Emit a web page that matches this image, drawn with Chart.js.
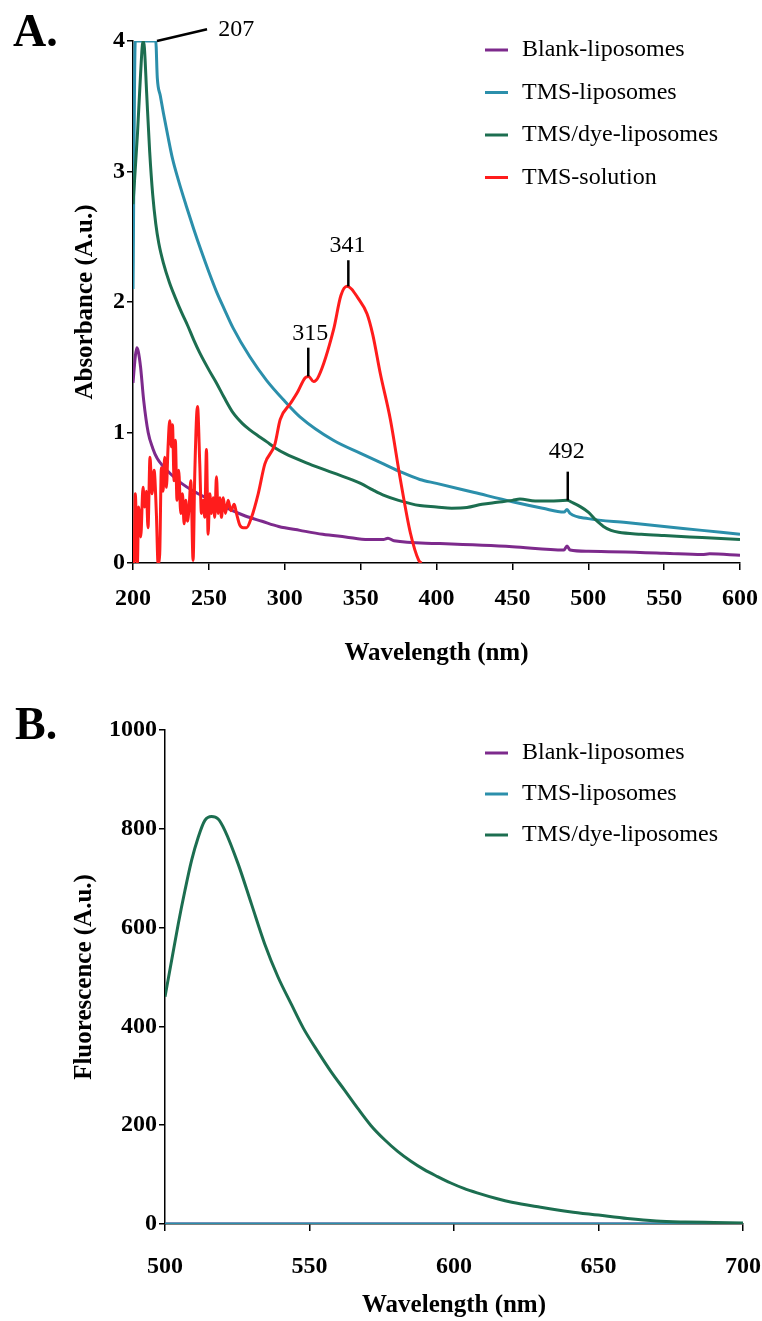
<!DOCTYPE html>
<html>
<head>
<meta charset="utf-8">
<title>Absorbance and fluorescence spectra</title>
<script src="https://cdn.jsdelivr.net/npm/chart.js@4/dist/chart.umd.min.js"></script>
<style>
  body { margin: 0; background: #fff; }
  .wrap { position: relative; width: 762px; height: 1321px; }
  canvas { position: absolute; left: 0; }
  #chartA { top: 0; }
  #chartB { top: 680px; }
  .panel { position: absolute; font: bold 46px "Liberation Serif", serif; line-height: 1; color: #000; }
</style>
</head>
<body>
<div class="wrap">
  <canvas id="chartA" width="762" height="680"></canvas>
  <canvas id="chartB" width="762" height="641"></canvas>
  <div class="panel" style="left:13px;top:8px">A.</div>
  <div class="panel" style="left:15px;top:701px">B.</div>
</div>
<script>
// panel A - absorbance
var blankNm  = [200, 201.5, 202.5, 203.5, 205, 207, 210, 213, 216, 220, 225, 232, 240, 250, 262, 274, 285, 296, 310, 325, 340, 355, 365, 368, 372, 400, 450, 484, 486, 488, 500, 550, 575, 580, 600];
var blankAbs = [1.38, 1.58, 1.65, 1.62, 1.5, 1.25, 1.0, 0.88, 0.8, 0.74, 0.68, 0.61, 0.55, 0.49, 0.42, 0.36, 0.32, 0.28, 0.25, 0.22, 0.2, 0.18, 0.18, 0.19, 0.17, 0.15, 0.125, 0.1, 0.13, 0.1, 0.09, 0.075, 0.065, 0.07, 0.06];

var tmsNm  = [200, 201.5, 215, 216, 218, 220, 223, 226, 230, 235, 240, 245, 250, 255, 260, 266, 277, 288, 300, 310, 332, 350, 365, 376, 389, 400, 425, 450, 470, 484, 486, 488, 500, 525, 550, 575, 600];
var tmsAbs = [2.1, 4.0, 4.0, 3.72, 3.58, 3.45, 3.27, 3.1, 2.93, 2.74, 2.56, 2.39, 2.23, 2.08, 1.95, 1.8, 1.58, 1.4, 1.24, 1.12, 0.94, 0.84, 0.76, 0.7, 0.64, 0.61, 0.54, 0.47, 0.42, 0.39, 0.41, 0.38, 0.34, 0.31, 0.28, 0.25, 0.22];

var dyeNm  = [200, 203, 205, 206.6, 207.5, 209, 211, 213, 215, 217, 220, 224, 228, 232, 236, 240, 244, 250, 255, 260, 266, 272, 277, 283, 288, 294, 300, 316, 332, 350, 358, 365, 375, 389, 400, 410, 420, 430, 440, 450, 455, 465, 475, 486, 490, 495, 500, 505, 510, 515, 520, 535, 550, 575, 600];
var dyeAbs = [2.75, 3.3, 3.75, 4.0, 3.95, 3.6, 3.15, 2.82, 2.6, 2.45, 2.3, 2.15, 2.03, 1.92, 1.82, 1.71, 1.61, 1.48, 1.38, 1.27, 1.15, 1.07, 1.02, 0.97, 0.93, 0.88, 0.84, 0.76, 0.69, 0.61, 0.56, 0.52, 0.48, 0.44, 0.43, 0.42, 0.425, 0.45, 0.465, 0.48, 0.49, 0.475, 0.475, 0.48, 0.46, 0.43, 0.39, 0.33, 0.28, 0.25, 0.235, 0.22, 0.21, 0.195, 0.18];

var solNm  = [200, 200.7, 201.5, 202.9, 203.7, 205.1, 206.6, 207.7, 208.8, 209.9, 211.2, 212.5, 213.9, 215.4, 216.5, 217.6, 218.7, 219.8, 220.9, 222, 223.1, 224.2, 225.3, 226, 227.1, 227.9, 229, 230.1, 231.5, 232.6, 233.7, 234.8, 235.9, 237, 238.1, 239.6, 240.7, 242.5, 244, 245.1, 246.2, 247.3, 248.4, 249.5, 250.6, 251.7, 252.8, 253.9, 255, 256.1, 257.2, 258.3, 259.5, 260.9, 262.7, 264.5, 266.7, 268.2, 270.4, 272.6, 274.8, 278.1, 282.5, 286.9, 293.5, 297, 303.6, 308, 313.5, 315.7, 319, 322.3, 332.2, 337, 341, 344, 347.7, 354.2, 358, 363, 369.6, 376.2, 382.8, 388.3, 390];
var solAbs = [0.15, 0, 0.53, 0, 0.43, 0.2, 0.58, 0.43, 0.55, 0.27, 0.81, 0.53, 0.71, 0.38, 0, 0.07, 0.73, 0.55, 0.81, 0.58, 0.89, 1.09, 0.89, 1.06, 0.63, 0.94, 0.48, 0.71, 0.38, 0.53, 0.3, 0.48, 0.32, 0.43, 0.63, 0.02, 0.68, 1.2, 0.76, 0.38, 0.48, 0.35, 0.87, 0.22, 0.53, 0.38, 0.5, 0.35, 0.66, 0.38, 0.5, 0.35, 0.5, 0.38, 0.48, 0.4, 0.45, 0.38, 0.29, 0.27, 0.27, 0.35, 0.53, 0.76, 0.91, 1.1, 1.22, 1.3, 1.42, 1.43, 1.39, 1.43, 1.79, 2.05, 2.12, 2.1, 2.04, 1.91, 1.75, 1.45, 1.1, 0.64, 0.23, 0.02, 0];

// panel B - fluorescence
var fluoNm  = [500, 502.3, 504.6, 506.9, 509.2, 511.5, 513.8, 516.1, 518.4, 520.7, 525.3, 529.9, 534.5, 539.1, 543.7, 548, 553, 557.5, 562, 566.7, 571.3, 575.9, 580.5, 585.1, 589.7, 594.3, 598.9, 603.4, 608, 615, 620, 630, 640, 650, 660, 670, 680, 690, 700];
var fluoDye = [460, 534, 608, 675, 736, 783, 817, 825, 820, 797, 729, 648, 567, 500, 445, 395, 348, 308, 272, 234, 199, 171, 147, 127, 110, 96, 83, 72, 63, 51, 44, 34, 25, 18, 11, 6, 4, 3, 2];
var fluoFlatNm = [500, 700];
var fluoBlank  = [0, 0];
var fluoTms    = [0, 0];

var seriesNames = ['Blank-liposomes', 'TMS-liposomes', 'TMS/dye-liposomes', 'TMS-solution'];
var seriesColors = ['#7d2a8c', '#2b8fab', '#1c6e50', '#ff1c1c'];

function pairs(xs, ys) {
  return xs.map(function (x, i) { return { x: x, y: ys[i] }; });
}

function line(idx, xs, ys) {
  return {
    label: seriesNames[idx],
    data: pairs(xs, ys),
    borderColor: seriesColors[idx],
    backgroundColor: seriesColors[idx],
    borderWidth: 3,
    pointRadius: 0,
    cubicInterpolationMode: 'monotone',
    order: 3 - idx
  };
}

var boldFont = { family: '"Liberation Serif", serif', size: 24, weight: 'bold' };
var titleFont = { family: '"Liberation Serif", serif', size: 25, weight: 'bold' };

// legend drawn inside the plot, top right
var legendBox = {
  id: 'legendBox',
  afterDraw: function (chart, args, opts) {
    var ctx = chart.ctx;
    ctx.save();
    ctx.font = '24px "Liberation Serif", serif';
    ctx.textBaseline = 'middle';
    ctx.textAlign = 'left';
    chart.data.datasets.forEach(function (ds, i) {
      var y = opts.top + i * opts.gap;
      ctx.strokeStyle = ds.borderColor;
      ctx.lineWidth = 3;
      ctx.beginPath();
      ctx.moveTo(opts.left, y);
      ctx.lineTo(opts.left + 23, y);
      ctx.stroke();
      ctx.fillStyle = '#000';
      ctx.fillText(ds.label, opts.left + 37, y);
    });
    ctx.restore();
  }
};

// peak labels with their leader lines, placed in data units
var peakMarks = {
  id: 'peakMarks',
  afterDatasetsDraw: function (chart, args, opts) {
    if (!opts.marks) return;
    var xs = chart.scales.x, ys = chart.scales.y, ctx = chart.ctx;
    ctx.save();
    ctx.strokeStyle = '#000';
    ctx.fillStyle = '#000';
    ctx.lineWidth = 2.5;
    ctx.font = '24px "Liberation Serif", serif';
    ctx.textBaseline = 'middle';
    opts.marks.forEach(function (m) {
      ctx.beginPath();
      ctx.moveTo(xs.getPixelForValue(m.from[0]), ys.getPixelForValue(m.from[1]));
      ctx.lineTo(xs.getPixelForValue(m.to[0]), ys.getPixelForValue(m.to[1]));
      ctx.stroke();
      ctx.textAlign = m.align;
      ctx.fillText(m.text, xs.getPixelForValue(m.at[0]), ys.getPixelForValue(m.at[1]));
    });
    ctx.restore();
  }
};

function axis(min, max, step, title, fit) {
  return {
    type: 'linear',
    min: min,
    max: max,
    ticks: { stepSize: step, color: '#000', font: boldFont, padding: fit.pad, format: { useGrouping: false } },
    grid: { display: true, drawOnChartArea: false, drawTicks: true, tickLength: fit.tick, color: '#000', lineWidth: 1.5 },
    border: { display: true, color: '#000', width: 1.5 },
    title: { display: true, text: title, color: '#000', font: titleFont, padding: fit.titlePad },
    afterFit: function (scale) {
      if (fit.width) scale.width = fit.width;
      if (fit.height) {
        // the end labels may hang over the edge; keep the plot width fixed
        scale.height = fit.height;
        scale.paddingLeft = 0;
        scale.paddingRight = 0;
      }
    }
  };
}

new Chart(document.getElementById('chartA'), {
  type: 'line',
  data: {
    datasets: [
      line(0, blankNm, blankAbs),
      line(1, tmsNm, tmsAbs),
      line(2, dyeNm, dyeAbs),
      line(3, solNm, solAbs)
    ]
  },
  options: {
    responsive: false,
    animation: false,
    layout: { padding: { top: 41, right: 22, bottom: 0, left: 0 } },
    plugins: {
      legend: { display: false },
      tooltip: { enabled: false },
      legendBox: { left: 485, top: 50, gap: 42.5 },
      peakMarks: {
        marks: [
          { text: '207', from: [215.8, 4.0], to: [248.8, 4.09], at: [256.1, 4.085], align: 'left' },
          { text: '315', from: [315.5, 1.43], to: [315.5, 1.65], at: [316.8, 1.76], align: 'center' },
          { text: '341', from: [341.9, 2.12], to: [341.9, 2.32], at: [341.3, 2.43], align: 'center' },
          { text: '492', from: [486.5, 0.48], to: [486.5, 0.7], at: [485.8, 0.85], align: 'center' }
        ]
      }
    },
    scales: {
      x: axis(200, 600, 50, 'Wavelength (nm)', { pad: 14, tick: 7, height: 117, titlePad: { top: 0, bottom: 11 } }),
      y: axis(0, 4, 1, 'Absorbance (A.u.)', { pad: 2, tick: 6, width: 133, titlePad: { top: 71, bottom: 0 } })
    }
  },
  plugins: [legendBox, peakMarks]
});

new Chart(document.getElementById('chartB'), {
  type: 'line',
  data: {
    datasets: [
      line(0, fluoFlatNm, fluoBlank),
      line(1, fluoFlatNm, fluoTms),
      line(2, fluoNm, fluoDye)
    ]
  },
  options: {
    responsive: false,
    animation: false,
    layout: { padding: { top: 50, right: 19, bottom: 0, left: 0 } },
    plugins: {
      legend: { display: false },
      tooltip: { enabled: false },
      legendBox: { left: 485, top: 73, gap: 41 },
      peakMarks: {}
    },
    scales: {
      x: axis(500, 700, 50, 'Wavelength (nm)', { pad: 21, tick: 7, height: 97, titlePad: { top: 0, bottom: 0 } }),
      y: axis(0, 1000, 200, 'Fluorescence (A.u.)', { pad: 2, tick: 6, width: 165, titlePad: { top: 70, bottom: 0 } })
    }
  },
  plugins: [legendBox, peakMarks]
});
</script>
</body>
</html>
